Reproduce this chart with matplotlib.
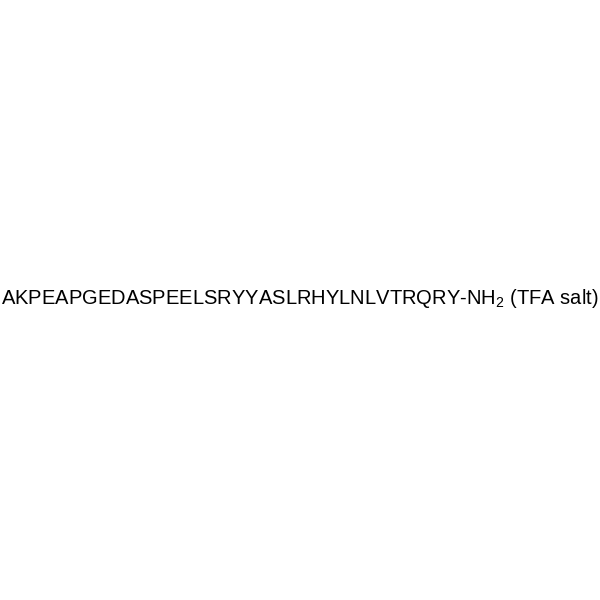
import matplotlib
matplotlib.use("Agg")
import matplotlib.pyplot as plt

sequence = "AKPEAPGEDASPEELSRYYASLRHYLNLVTRQRY"
suffix = "-NH$_2$ (TFA salt)"
label = sequence + suffix

plt.rcParams['font.family'] = ['Liberation Sans', 'DejaVu Sans']
plt.rcParams['mathtext.fontset'] = 'custom'
plt.rcParams['mathtext.rm'] = 'Liberation Sans'
plt.rcParams['mathtext.it'] = 'Liberation Sans'
plt.rcParams['mathtext.default'] = 'rm'

fig = plt.figure(figsize=(6, 6), dpi=100)
fig.patch.set_facecolor("white")

t = fig.text(299.5 / 600, 1 - 299 / 600, label, ha="center", va="center",
             fontsize=14, color="black")

# fit the label width to the reference span (x 2..597)
fig.canvas.draw()
bb = t.get_window_extent()
t.set_fontsize(14 * 600 / bb.width)

fig.savefig("out.png", dpi=100, facecolor="white")
